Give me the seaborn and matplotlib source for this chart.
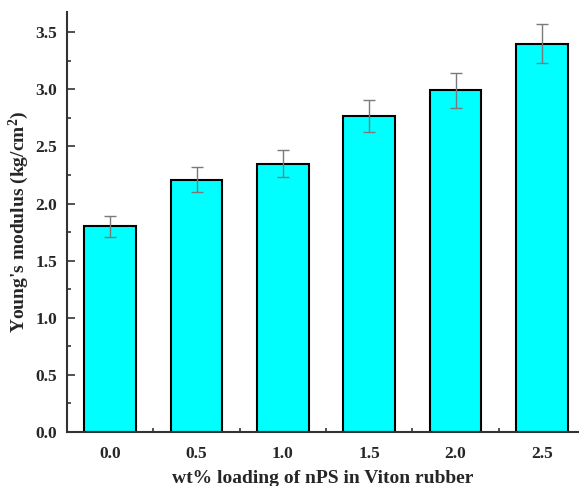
import matplotlib
matplotlib.use("Agg")
import matplotlib.pyplot as plt
import seaborn as sns
import pandas as pd
import numpy as np
from matplotlib.ticker import MultipleLocator

loading = ["0.0", "0.5", "1.0", "1.5", "2.0", "2.5"]
modulus = [1.80, 2.21, 2.35, 2.77, 2.99, 3.40]
modulus_err = [0.09, 0.11, 0.12, 0.14, 0.15, 0.17]

df = pd.DataFrame({"loading": loading, "modulus": modulus})

sns.set_theme(style="ticks")
plt.rcParams["font.family"] = ["Liberation Serif", "DejaVu Serif"]
plt.rcParams["mathtext.fontset"] = "custom"
plt.rcParams["mathtext.rm"] = "Liberation Serif:bold"
plt.rcParams["mathtext.it"] = "Liberation Serif:bold"
plt.rcParams["mathtext.bf"] = "Liberation Serif:bold"

fig = plt.figure(figsize=(5.79, 4.86), dpi=100)
ax = fig.add_axes([0.1157, 0.111, 0.8843, 0.864])

sns.barplot(data=df, x="loading", y="modulus", order=loading, color="#00ffff",
            saturation=1, width=0.6, edgecolor="black", linewidth=1.5,
            errorbar=None, ax=ax)

xs = [p.get_x() + p.get_width() / 2 for p in ax.patches]
ax.errorbar(xs, modulus, yerr=modulus_err, fmt="none", ecolor="#7a7a7a",
            elinewidth=1.0, capsize=4, capthick=1.0, zorder=5)

ax.set_xlim(-0.5, 5.43)
ax.set_ylim(0, 3.675)
ax.yaxis.set_major_locator(MultipleLocator(0.5))
ax.yaxis.set_minor_locator(MultipleLocator(0.25))
ax.set_xticks(range(len(loading)))
ax.set_xticks(np.arange(-0.5, 5.5, 1.0)[1:], minor=True)
ax.set_xticklabels(loading)
ax.set_yticklabels([f"{v:.1f}" for v in ax.get_yticks()])

for lab in ax.get_xticklabels() + ax.get_yticklabels():
    lab.set_fontweight("bold")
    lab.set_fontsize(12.5)

ax.tick_params(axis="both", which="major", direction="in", length=6, width=1.2, color="#333333")
ax.tick_params(axis="both", which="minor", direction="in", length=3, width=1.2, color="#333333")
ax.tick_params(axis="x", pad=10)
ax.tick_params(axis="y", pad=7)

for side in ["top", "right"]:
    ax.spines[side].set_visible(False)
for side in ["left", "bottom"]:
    ax.spines[side].set_linewidth(1.5)
    ax.spines[side].set_color("#333333")

ax.set_xlabel("wt% loading of nPS in Viton rubber", fontsize=14, fontweight="bold", labelpad=6)
ax.set_ylabel("Young's modulus (kg/cm$^{2}$)", fontsize=14, fontweight="bold", labelpad=3)

fig.savefig("out.png", dpi=100)
